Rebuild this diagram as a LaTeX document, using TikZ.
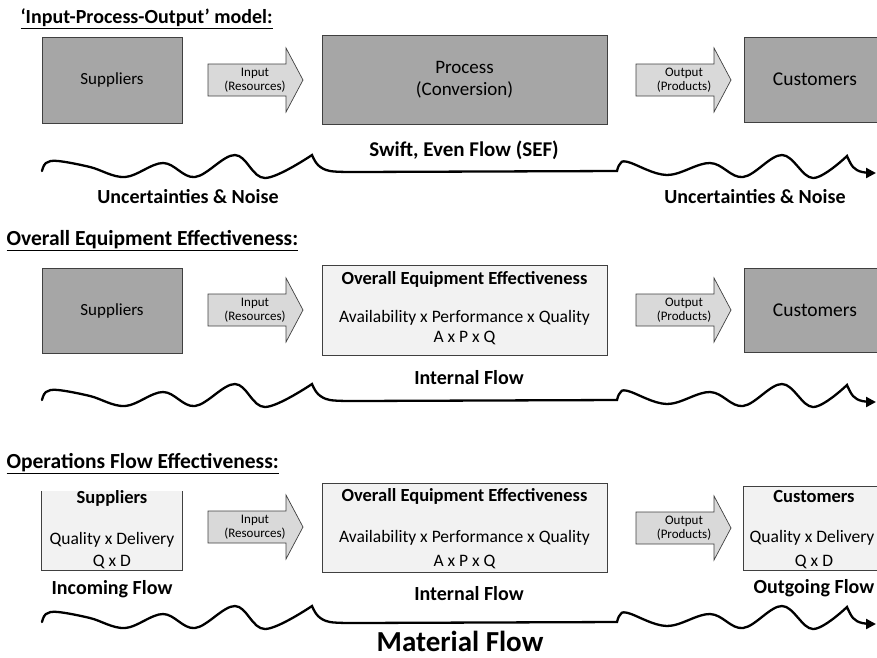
\documentclass[tikz,border=0pt]{standalone}
\usepackage{fontspec}
\setmainfont{Carlito}
\usetikzlibrary{arrows.meta}

\definecolor{boxdark}{HTML}{A6A6A6}
\definecolor{boxlight}{HTML}{F2F2F2}
\definecolor{arrowfill}{HTML}{D9D9D9}
\definecolor{edgegray}{HTML}{404040}

% input / output block arrow, #1 = left end, #2 = middle height
\newcommand{\flowarrow}[2]{%
  \draw[draw=edgegray, fill=arrowfill, line width=0.7pt]
    (#1,#2-16) -- (#1+78,#2-16) -- (#1+78,#2-32) -- (#1+95,#2)
    -- (#1+78,#2+32) -- (#1+78,#2+16) -- (#1,#2+16) -- cycle;}

\tikzset{
  darkbox/.style={draw=edgegray, fill=boxdark, line width=0.7pt, inner sep=0pt,
    font=\fontsize{17}{20}\selectfont, align=center},
  lightbox/.style={draw=edgegray, fill=boxlight, line width=0.7pt, inner sep=0pt},
  boxtext/.style={font=\fontsize{17.5}{21}\selectfont},
  boxtitle/.style={font=\bfseries\fontsize{18.5}{21}\selectfont},
  arrowtext/.style={font=\fontsize{13}{14}\selectfont, align=center},
  flowlabel/.style={font=\bfseries\fontsize{20}{24}\selectfont},
  header/.style={font=\bfseries\fontsize{21.5}{24}\selectfont, anchor=west},
  noisewave/.pic={
    \draw[line width=2.3pt, line cap=round, -{Triangle[length=10pt,width=10pt]}]
      plot[smooth, tension=0.6] coordinates {(42,171) (46,163) (58,161) (90,167)
        (125,177) (163,163) (195,177) (235,155) (265,178) (312,155)}
      -- plot[smooth, tension=0.6] coordinates {(312,155) (318,165) (330,171) (355,172)}
      -- (617,171)
      -- plot[smooth, tension=0.6] coordinates {(617,171) (620,164) (628,162)
        (667,175) (710,163) (743,177) (782,155) (813,178) (847,156)}
      -- plot[smooth, tension=0.6] coordinates {(847,156) (853,167) (862,172) (876,173)};
  }
}

\begin{document}
\begin{tikzpicture}[x=1pt, y=-1pt]
  \useasboundingbox (0,0) rectangle (877,657);
  \clip (0,0) rectangle (877,657);

  % 'Input-Process-Output' model
  \node[header, font=\bfseries\fontsize{20}{24}\selectfont] (head1) at (17,19) {\underline{‘Input-Process-Output’ model:}};
  \node[darkbox, minimum width=140pt, minimum height=86pt] (sup1) at (112,80) {Suppliers};
  \flowarrow{208}{80}
  \node[arrowtext] (in1) at (255,80) {Input\\(Resources)};
  \node[darkbox, minimum width=285pt, minimum height=89pt, font=\fontsize{19}{22}\selectfont] (proc1) at (464.5,79.5) {Process\\(Conversion)};
  \flowarrow{636}{80}
  \node[arrowtext] (out1) at (684,80) {Output\\(Products)};
  \node[darkbox, minimum width=142pt, minimum height=85pt, font=\fontsize{19.5}{24}\selectfont] (cus1) at (815,79.5) {Customers};
  \node[flowlabel, font=\bfseries\fontsize{21}{24}\selectfont] (sef1) at (464,150) {Swift, Even Flow (SEF)};
  \pic at (0,0) {noisewave};
  \node[flowlabel] (unc1) at (188,197) {Uncertainties \& Noise};
  \node[flowlabel] (unc2) at (755,197) {Uncertainties \& Noise};

  % Overall Equipment Effectiveness
  \node[header] (head2) at (3,241) {\underline{Overall Equipment Effectiveness:}};
  \node[darkbox, minimum width=140pt, minimum height=85pt] (sup2) at (112,310.5) {Suppliers};
  \flowarrow{208}{310}
  \node[arrowtext] (in2) at (255,310) {Input\\(Resources)};
  \node[lightbox, minimum width=285pt, minimum height=90pt] (oee2) at (464.5,310) {};
  \node[boxtitle] (oeet2) at (464.5,279) {Overall Equipment Effectiveness};
  \node[boxtext] (apq2) at (464.5,318) {Availability x Performance x Quality};
  \node[boxtext] (apqs2) at (464.5,338) {A x P x Q};
  \flowarrow{636}{310}
  \node[arrowtext] (out2) at (684,310) {Output\\(Products)};
  \node[darkbox, minimum width=142pt, minimum height=84pt, font=\fontsize{19.5}{24}\selectfont] (cus2) at (815,310) {Customers};
  \node[flowlabel] (int2) at (469,378) {Internal Flow};
  \pic at (0,229) {noisewave};

  % Operations Flow Effectiveness
  \node[header] (head3) at (3,464) {\underline{Operations Flow Effectiveness:}};
  \node[fill=boxlight, minimum width=140pt, minimum height=79pt, inner sep=0pt] (sup3) at (112,530.5) {};
  \draw[edgegray, line width=0.7pt] (sup3.north west) -- (sup3.south west)
    -- (sup3.south east) -- (sup3.north east);
  \node[boxtitle] (supt3) at (112,498) {Suppliers};
  \node[boxtext] (qd3) at (112,540) {Quality x Delivery};
  \node[boxtext] (qds3) at (112,562) {Q x D};
  \node[flowlabel] (inc3) at (112,589) {Incoming Flow};
  \flowarrow{208}{527}
  \node[arrowtext] (in3) at (255,527) {Input\\(Resources)};
  \node[lightbox, minimum width=285pt, minimum height=89pt] (oee3) at (464.5,527.5) {};
  \node[boxtitle] (oeet3) at (464.5,496) {Overall Equipment Effectiveness};
  \node[boxtext] (apq3) at (464.5,538) {Availability x Performance x Quality};
  \node[boxtext] (apqs3) at (464.5,562) {A x P x Q};
  \node[flowlabel] (int3) at (469,594) {Internal Flow};
  \flowarrow{636}{528}
  \node[arrowtext] (out3) at (684,528) {Output\\(Products)};
  \node[lightbox, minimum width=143pt, minimum height=84pt] (cus3) at (815,528) {};
  \node[boxtitle] (cust3) at (814,496) {Customers};
  \node[boxtext, inner sep=0pt] (qd4) at (812,538) {Quality x Delivery};
  \node[boxtext] (qds4) at (814,562) {Q x D};
  \node[flowlabel] (out4) at (814,588) {Outgoing Flow};
  \pic at (0,451) {noisewave};
  \node[font=\bfseries\fontsize{29}{34}\selectfont, inner sep=0pt] (mat) at (460,641) {Material Flow};
\end{tikzpicture}
\end{document}
